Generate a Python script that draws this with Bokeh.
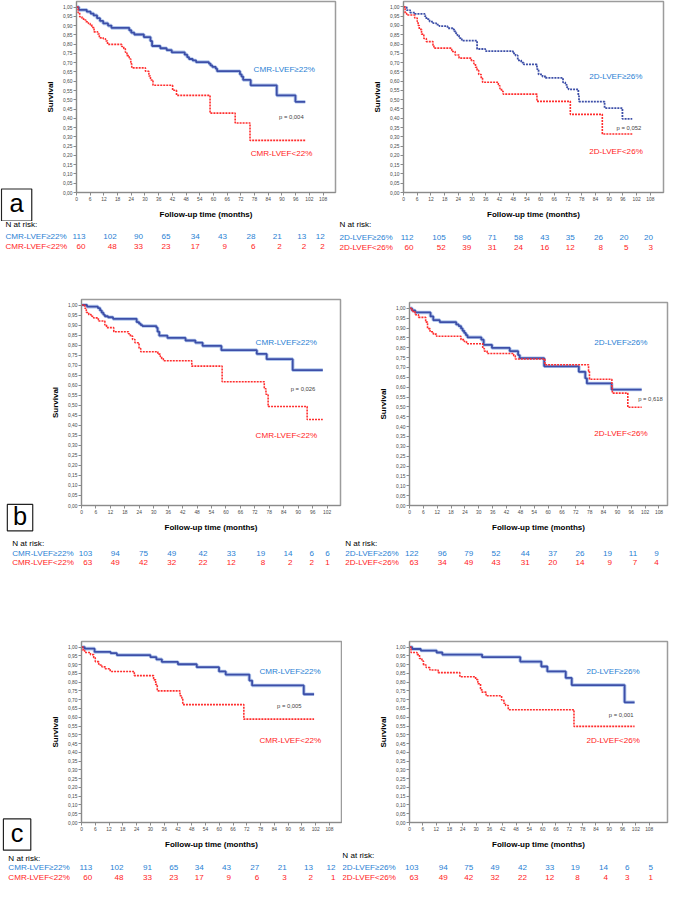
from bokeh.plotting import figure
from bokeh.models import Range1d, FixedTicker, CustomJSTickFormatter, Label
from bokeh.layouts import column, row
from bokeh.core.properties import value
from bokeh.embed import file_html
from bokeh.resources import INLINE

# ---------------- data ----------------
x_ticks = list(range(0, 109, 6))
y_ticks = [round(i * 0.05, 2) for i in range(21)]

# Panel a, left: CMR-LVEF
a_cmr_hi_t = [0, 1, 4.5, 6.2, 7.5, 9, 10.3, 11.7, 13.8, 15.3, 23.1, 24, 25.3, 29.5, 32.4, 33.1, 36.7, 39.5, 41.7,
              47.4, 48.5, 49.3, 50.9, 52.4, 58.0, 58.7, 59.5, 61.0, 61.6, 71.6, 72.3, 73.0, 76.3, 87.7, 95.9]
a_cmr_hi_s = [1.0, 0.985, 0.975, 0.965, 0.955, 0.94, 0.925, 0.912, 0.90, 0.888, 0.875, 0.862, 0.852, 0.838, 0.817,
              0.79, 0.778, 0.768, 0.756, 0.743, 0.73, 0.72, 0.712, 0.703, 0.695, 0.685, 0.677, 0.668, 0.654, 0.637,
              0.625, 0.607, 0.578, 0.524, 0.489]
a_cmr_lo_t = [0, 0.7, 1.4, 2.4, 3.1, 4.1, 5.2, 6, 6.7, 7.7, 9.3, 10, 11.7, 12.7, 13.6, 19.8, 20.7, 21.4, 22.1, 23.1,
              23.8, 24.2, 30.2, 31.7, 32.4, 33.5, 42.1, 43.8, 58.5, 69.5, 76.0]
a_cmr_lo_s = [1.0, 0.969, 0.948, 0.94, 0.93, 0.921, 0.912, 0.904, 0.89, 0.866, 0.855, 0.834, 0.829, 0.817, 0.799,
              0.787, 0.775, 0.756, 0.738, 0.72, 0.694, 0.672, 0.654, 0.628, 0.607, 0.578, 0.551, 0.524, 0.428,
              0.375, 0.281]
a_cmr_end = 100.2

# Panel a, right: 2D-LVEF
a_2d_hi_t = [0, 1.4, 2.9, 5.0, 9.3, 10.0, 11.4, 12.9, 14.3, 15.7, 19.3, 21.5, 22.2, 22.9, 23.6, 24.3, 25.5, 32.2,
             35.8, 47.9, 49.0, 50.0, 51.5, 52.6, 58.4, 59.1, 60.8, 62.2, 69.8, 70.8, 71.5, 72.2, 76.5, 76.8, 88.0, 95.8]
a_2d_hi_s = [1.0, 0.983, 0.969, 0.962, 0.95, 0.934, 0.921, 0.913, 0.904, 0.896, 0.885, 0.878, 0.868, 0.858, 0.846,
             0.832, 0.818, 0.773, 0.762, 0.75, 0.738, 0.712, 0.70, 0.69, 0.665, 0.636, 0.625, 0.617, 0.593, 0.58,
             0.567, 0.556, 0.52, 0.49, 0.455, 0.397]
a_2d_lo_t = [0, 0.7, 1.4, 4.9, 6.0, 6.4, 6.9, 7.9, 8.9, 10.0, 12.9, 13.3, 21.1, 22.6, 24.3, 29.7, 30.8, 31.5, 32.2,
             32.9, 34.0, 34.6, 41.5, 42.2, 42.9, 43.6, 58.4, 73.0, 87.0]
a_2d_lo_s = [1.0, 0.965, 0.956, 0.94, 0.921, 0.90, 0.879, 0.853, 0.83, 0.813, 0.793, 0.778, 0.76, 0.741, 0.724,
             0.71, 0.694, 0.675, 0.659, 0.636, 0.615, 0.594, 0.575, 0.559, 0.545, 0.53, 0.491, 0.421, 0.315]
a_2d_end = 100.1

# Panel b, left: CMR-LVEF
b_cmr_hi_t = [0, 2.3, 6.8, 7.7, 8.4, 9.1, 9.7, 11.0, 13.1, 22.9, 23.9, 24.6, 25.3, 31.1, 31.6, 32.3, 35.7, 43.2,
              47.3, 50.3, 58.1, 72.8, 76.9, 87.7]
b_cmr_hi_s = [1.0, 0.992, 0.985, 0.973, 0.962, 0.952, 0.944, 0.939, 0.931, 0.915, 0.907, 0.90, 0.895, 0.887, 0.867,
              0.847, 0.836, 0.823, 0.812, 0.796, 0.775, 0.756, 0.73, 0.675]
b_cmr_lo_t = [0, 1.4, 2.0, 3.0, 4.0, 5.0, 7.0, 9.7, 10.4, 13.4, 19.5, 20.3, 21.2, 22.2, 23.9, 24.6, 31.7, 32.7,
              33.3, 34.0, 45.8, 58.4, 75.9, 76.6, 77.5, 93.7]
b_cmr_lo_s = [1.0, 0.984, 0.963, 0.952, 0.944, 0.936, 0.92, 0.90, 0.887, 0.867, 0.857, 0.845, 0.828, 0.812, 0.783,
              0.767, 0.755, 0.743, 0.732, 0.722, 0.695, 0.617, 0.582, 0.555, 0.494, 0.429]
b_cmr_end = 100.2

# Panel b, right: 2D-LVEF
b_2d_hi_t = [0, 1.1, 2.5, 9.1, 10.3, 13.1, 20.2, 21.3, 22.3, 23.0, 23.7, 24.4, 25.1, 31.1, 32.1, 35.7, 43.4, 47.0,
             47.7, 58.3, 73.3, 76.1, 76.8, 87.5]
b_2d_hi_s = [1.0, 0.989, 0.979, 0.959, 0.94, 0.93, 0.918, 0.91, 0.898, 0.886, 0.875, 0.864, 0.853, 0.841, 0.815,
             0.799, 0.783, 0.763, 0.747, 0.706, 0.678, 0.645, 0.619, 0.588]
b_2d_lo_t = [0, 1.1, 2.5, 3.9, 7.0, 7.8, 8.9, 10.3, 11.7, 22.3, 23.7, 24.7, 31.7, 32.4, 33.6, 45.1, 45.8, 58.6,
             77.5, 77.9, 87.6, 87.8, 94.5]
b_2d_lo_s = [1.0, 0.984, 0.967, 0.954, 0.93, 0.897, 0.881, 0.869, 0.858, 0.841, 0.832, 0.82, 0.796, 0.783, 0.771,
             0.76, 0.743, 0.714, 0.681, 0.64, 0.60, 0.57, 0.498]
b_2d_end = 100.5

# Panel c, left: CMR-LVEF
c_cmr_hi_t = [0, 1.4, 5.7, 12.7, 15.4, 30.0, 32.6, 35.0, 42.0, 50.2, 59.9, 62.8, 73.1, 74.3, 96.8]
c_cmr_hi_s = [1.0, 0.991, 0.972, 0.965, 0.954, 0.943, 0.93, 0.915, 0.902, 0.885, 0.861, 0.843, 0.809, 0.781, 0.731]
c_cmr_lo_t = [0, 0.7, 1.4, 3.9, 5.3, 6.0, 7.5, 8.9, 10.3, 12.5, 23.0, 31.4, 32.3, 33.0, 42.9, 43.7, 44.1, 70.7]
c_cmr_lo_s = [1.0, 0.981, 0.969, 0.957, 0.939, 0.917, 0.898, 0.887, 0.876, 0.861, 0.837, 0.813, 0.787, 0.75,
              0.722, 0.709, 0.672, 0.589]
c_cmr_end = 101.3

# Panel c, right: 2D-LVEF
c_2d_hi_t = [0, 1.2, 5.1, 12.2, 14.8, 32.7, 49.9, 59.4, 62.1, 70.4, 73.1, 96.9]
c_2d_hi_s = [1.0, 0.989, 0.98, 0.969, 0.957, 0.943, 0.917, 0.889, 0.861, 0.824, 0.783, 0.685]
c_2d_lo_t = [0, 0.7, 3.4, 4.5, 5.6, 6.3, 7.5, 9.2, 12.9, 22.7, 29.8, 30.8, 32.0, 32.7, 34.5, 41.5, 42.5, 43.3,
             44.5, 74.1]
c_2d_lo_s = [1.0, 0.969, 0.957, 0.935, 0.92, 0.898, 0.883, 0.869, 0.854, 0.831, 0.815, 0.791, 0.756, 0.743,
             0.722, 0.698, 0.68, 0.667, 0.643, 0.548]
c_2d_end = 101.4

# Numbers at risk
risk_a_cmr_hi = [113, 102, 90, 65, 34, 43, 28, 21, 13, 12]
risk_a_cmr_lo = [60, 48, 33, 23, 17, 9, 6, 2, 2, 2]
risk_a_2d_hi = [112, 105, 96, 71, 58, 43, 35, 26, 20, 20]
risk_a_2d_lo = [60, 52, 39, 31, 24, 16, 12, 8, 5, 3]
risk_b_cmr_hi = [103, 94, 75, 49, 42, 33, 19, 14, 6, 6]
risk_b_cmr_lo = [63, 49, 42, 32, 22, 12, 8, 2, 2, 1]
risk_b_2d_hi = [122, 96, 79, 52, 44, 37, 26, 19, 11, 9]
risk_b_2d_lo = [63, 34, 49, 43, 31, 20, 14, 9, 7, 4]
risk_c_cmr_hi = [113, 102, 91, 65, 34, 43, 27, 21, 13, 12]
risk_c_cmr_lo = [60, 48, 33, 23, 17, 9, 6, 3, 2, 1]
risk_c_2d_hi = [103, 94, 75, 49, 42, 33, 19, 14, 6, 5]
risk_c_2d_lo = [63, 49, 42, 32, 22, 12, 8, 4, 3, 1]

cmr_labels = ["CMR-LVEF≥22%", "CMR-LVEF<22%"]
d2_labels = ["2D-LVEF≥26%", "2D-LVEF<26%"]
p_values = {"a_cmr": "p = 0,004", "a_2d": "p = 0,052", "b_cmr": "p = 0,026",
            "b_2d": "p = 0,618", "c_cmr": "p = 0,005", "c_2d": "p = 0,001"}

# ---------------- layout / style ----------------
S = 669 / 685
FONT = "Liberation Sans"
BLUE_LINE = "#3d4fa8"
BLUE_HALO = "#b3c7ec"
RED_LINE = "#ff2e2e"
BLUE_TXT = "#2a7fd4"
RED_TXT = "#ff1c1c"
LETTER_W = 36


def fs(v):
    return f"{v * S:.2f}px"


def X(v):
    return round(S * v)


def no_align(fig):
    try:
        fig.frame_align = False
    except Exception:
        pass
    return fig


# rows: top, bottom of survival plots, bottom of at-risk table, left/right split (reference px)
ROWS = {
    "a": dict(rt=0, kb=226.5, rb=265, split=345),
    "b": dict(rt=265, kb=547, rb=585, split=350),
    "c": dict(rt=585, kb=871, rb=902, split=350),
}

# plot-frame geometry in reference pixels
GEOM = {
    "AL": dict(fl=78, fr=342.7, ft=1.2, fb=197, y1=6.9, ppm=(330 - 78) / 108),
    "AR": dict(fl=413, fr=679, ft=1.2, fb=196.5, y1=6.7, ppm=(665.5 - 413) / 108),
    "BL": dict(fl=82.7, fr=348, ft=306, fb=518.8, y1=311.7, ppm=(334.3 - 82.7) / 102),
    "BR": dict(fl=419, fr=683, ft=309, fb=519, y1=315, ppm=(674.3 - 419) / 108),
    "CL": dict(fl=83, fr=349, ft=656, fb=842, y1=661.7, ppm=(336.7 - 83) / 108),
    "CR": dict(fl=419, fr=683, ft=656, fb=842, y1=661.7, ppm=(664.3 - 419) / 108),
}

# text placement (reference pixels)
TEXTPOS = {
    "AL": dict(hi=(259, 70.7), p=(285, 120), lo=(256, 157), tx=5, ty=(229.5, 242, 252),
               nx=[87, 119, 146, 174, 204, 232, 261, 288, 313, 332], letter=("a", 1, 193, 32, 226)),
    "AR": dict(hi=(603, 78), p=(631, 131), lo=(603, 155), tx=347, ty=(229.5, 243, 253),
               nx=[423, 456, 482, 508, 535, 562, 588, 617, 643, 668], letter=None),
    "BL": dict(hi=(261, 350), p=(297, 398), lo=(261, 446), tx=12, ty=(556, 566, 575),
               nx=[94, 122, 151, 180, 212, 241, 271, 299, 321, 337], letter=("b", 7, 516, 33, 543)),
    "BR": dict(hi=(608, 350), p=(653, 409), lo=(608, 444), tx=353, ty=(556, 566, 575),
               nx=[428, 457, 484, 512, 542, 570, 598, 626, 652, 674], letter=None),
    "CL": dict(hi=(265, 687), p=(283, 722), lo=(265, 758), tx=8, ty=(879, 888, 897.5),
               nx=[94, 126, 155, 182, 208, 236, 265, 293, 320, 343], letter=("c", 3, 838, 31, 870)),
    "CR": dict(hi=(600, 687), p=(623, 732), lo=(600, 758), tx=350, ty=(875, 888, 897.5),
               nx=[428, 458, 484, 511, 539, 567, 593, 622, 644, 668], letter=None),
}


def make_panel(key, rowkey, hi_t, hi_s, lo_t, lo_s, t_end, labels, ptxt, risk_hi, risk_lo, blue_dotted=False):
    g = GEOM[key]
    tp = TEXTPOS[key]
    r = ROWS[rowkey]
    left = key.endswith("L")
    rt, kb, rb, split = r["rt"], r["kb"], r["rb"], r["split"]
    if left:
        kx0, tx0, tx1 = LETTER_W, 0, split
    else:
        kx0, tx0, tx1 = split, split, 685
    kx1 = tx1
    fl, fr, ft, fb, y1, ppm = g["fl"], g["fr"], g["ft"], g["fb"], g["y1"], g["ppm"]
    W = X(kx1) - X(kx0)
    H = X(kb) - X(rt)
    bl = X(fl) - X(kx0)
    br = X(kx1) - X(fr)
    bt = X(ft) - X(rt)
    bb = X(kb) - X(fb)
    ppu = fb - y1
    xmax = (fr - fl) / ppm
    ymax = (fb - ft) / ppu

    def dx(px):
        return (px - fl) / ppm

    def dy(py):
        return (fb - py) / ppu

    p = figure(width=W, height=H, x_range=Range1d(0, xmax), y_range=Range1d(0, ymax),
               output_backend="svg", toolbar_location=None, title=None,
               min_border_left=bl, min_border_right=br, min_border_top=bt, min_border_bottom=bb)
    no_align(p)
    p.grid.grid_line_color = None
    p.outline_line_color = "#9c9c9c"
    p.outline_line_width = 1.5
    p.background_fill_color = "white"
    p.border_fill_color = "white"

    p.xaxis.ticker = FixedTicker(ticks=x_ticks)
    p.yaxis.ticker = FixedTicker(ticks=y_ticks)
    p.yaxis.formatter = CustomJSTickFormatter(code="return tick.toFixed(2).replace('.', ',');")
    p.xaxis.axis_label = "Follow-up time (months)"
    p.yaxis.axis_label = "Survival"
    for ax in (p.xaxis, p.yaxis):
        ax.axis_line_color = "#8a8a8a"
        ax.axis_line_width = 1
        ax.major_tick_line_color = "#8a8a8a"
        ax.major_tick_out = 3
        ax.major_tick_in = 0
        ax.minor_tick_line_color = None
        ax.major_label_text_font = FONT
        ax.major_label_text_font_size = fs(5)
        ax.major_label_text_color = "#4a4a4a"
        ax.major_label_standoff = 1
        ax.axis_label_text_font = FONT
        ax.axis_label_text_font_size = fs(8.2)
        ax.axis_label_text_font_style = "bold"
        ax.axis_label_text_color = "black"
    p.xaxis.axis_label_standoff = 6
    p.yaxis.axis_label_standoff = 5

    # survival curves
    lx = list(lo_t) + [t_end]
    ly = list(lo_s) + [lo_s[-1]]
    hx = list(hi_t) + [t_end]
    hy = list(hi_s) + [hi_s[-1]]
    if blue_dotted:
        p.step(hx, hy, mode="after", line_color=BLUE_LINE, line_width=1.8, line_dash="2 1")
    else:
        p.step(hx, hy, mode="after", line_color=BLUE_HALO, line_width=3.6)
        p.step(hx, hy, mode="after", line_color=BLUE_LINE, line_width=1.8)
    p.step(lx, ly, mode="after", line_color=RED_LINE, line_width=1.6, line_dash="2 1")

    def lab(px, py, text, size, color):
        p.add_layout(Label(x=dx(px), y=dy(py), text=text, text_font=FONT, text_font_size=fs(size),
                           text_color=color, text_align="left", text_baseline="middle"))

    lab(tp["hi"][0], tp["hi"][1], labels[0], 8.3, BLUE_TXT)
    lab(tp["lo"][0], tp["lo"][1], labels[1], 8.3, RED_TXT)
    lab(tp["p"][0], tp["p"][1], ptxt, 6, "#444444")

    # at-risk table figure (x in months of this panel, y in reference px)
    t = figure(width=X(tx1) - X(tx0), height=X(rb) - X(kb),
               x_range=Range1d(dx(X(tx0) / S), dx(X(tx1) / S)),
               y_range=Range1d(X(rb) / S, X(kb) / S),
               output_backend="svg", toolbar_location=None, title=None,
               x_axis_type=None, y_axis_type=None,
               min_border_left=0, min_border_right=0, min_border_top=0, min_border_bottom=0)
    no_align(t)
    t.grid.grid_line_color = None
    t.outline_line_color = None
    ty_n, ty_hi, ty_lo = tp["ty"]
    txt = dict(text_font=value(FONT), text_font_size=value(fs(8.3)), text_baseline="middle")
    t.text(x=[dx(tp["tx"])] * 3, y=[ty_n, ty_hi, ty_lo], text=["N at risk:", labels[0], labels[1]],
           text_color=["black", BLUE_TXT, RED_TXT], text_align="left", **txt)
    nxs = [dx(v) for v in tp["nx"]]
    t.text(x=nxs, y=[ty_hi] * len(nxs), text=[str(v) for v in risk_hi],
           text_color=BLUE_TXT, text_align="right", **txt)
    t.text(x=nxs, y=[ty_lo] * len(nxs), text=[str(v) for v in risk_lo],
           text_color=RED_TXT, text_align="right", **txt)

    # panel letter strip
    lf = None
    if left:
        letter, bx0, by0, bx1, by1 = tp["letter"]
        lf = figure(width=X(LETTER_W), height=H,
                    x_range=Range1d(0, X(LETTER_W) / S), y_range=Range1d(X(kb) / S, X(rt) / S),
                    output_backend="svg", toolbar_location=None, title=None,
                    x_axis_type=None, y_axis_type=None,
                    min_border_left=0, min_border_right=0, min_border_top=0, min_border_bottom=0)
        no_align(lf)
        lf.grid.grid_line_color = None
        lf.outline_line_color = None
        lf.quad(left=[bx0], right=[bx1], top=[by0], bottom=[by1], fill_color="white",
                line_color="#222222", line_width=1.2)
        lf.text(x=[(bx0 + bx1) / 2], y=[(by0 + by1) / 2 - 2], text=[letter], text_align="center",
                text_baseline="middle", text_font=value(FONT), text_font_size=value(fs(26)),
                text_color="black")
    return p, t, lf


pAL, tAL, lA = make_panel("AL", "a", a_cmr_hi_t, a_cmr_hi_s, a_cmr_lo_t, a_cmr_lo_s, a_cmr_end, cmr_labels,
                          p_values["a_cmr"], risk_a_cmr_hi, risk_a_cmr_lo)
pAR, tAR, _ = make_panel("AR", "a", a_2d_hi_t, a_2d_hi_s, a_2d_lo_t, a_2d_lo_s, a_2d_end, d2_labels,
                         p_values["a_2d"], risk_a_2d_hi, risk_a_2d_lo, blue_dotted=True)
pBL, tBL, lB = make_panel("BL", "b", b_cmr_hi_t, b_cmr_hi_s, b_cmr_lo_t, b_cmr_lo_s, b_cmr_end, cmr_labels,
                          p_values["b_cmr"], risk_b_cmr_hi, risk_b_cmr_lo)
pBR, tBR, _ = make_panel("BR", "b", b_2d_hi_t, b_2d_hi_s, b_2d_lo_t, b_2d_lo_s, b_2d_end, d2_labels,
                         p_values["b_2d"], risk_b_2d_hi, risk_b_2d_lo)
pCL, tCL, lC = make_panel("CL", "c", c_cmr_hi_t, c_cmr_hi_s, c_cmr_lo_t, c_cmr_lo_s, c_cmr_end, cmr_labels,
                          p_values["c_cmr"], risk_c_cmr_hi, risk_c_cmr_lo)
pCR, tCR, _ = make_panel("CR", "c", c_2d_hi_t, c_2d_hi_s, c_2d_lo_t, c_2d_lo_s, c_2d_end, d2_labels,
                         p_values["c_2d"], risk_c_2d_hi, risk_c_2d_lo)

layout = column(
    row(column(row(lA, pAL), tAL), column(pAR, tAR)),
    row(column(row(lB, pBL), tBL), column(pBR, tBR)),
    row(column(row(lC, pCL), tCL), column(pCR, tCR)),
)

with open("out.html", "w") as f:
    f.write(file_html(layout, INLINE))
